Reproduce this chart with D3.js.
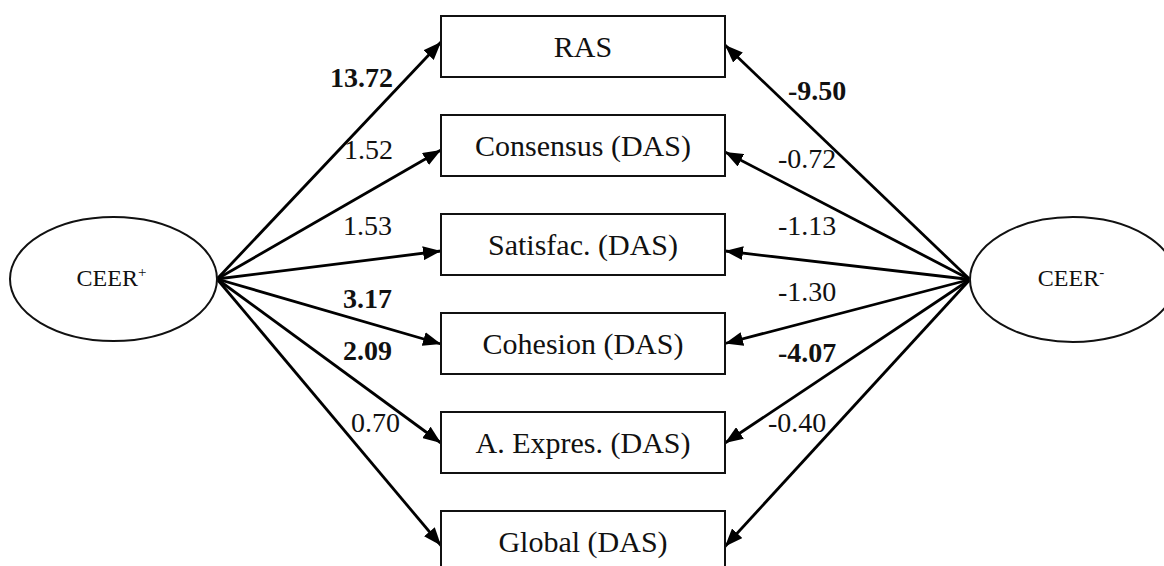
<!DOCTYPE html>
<html>
<head>
<meta charset="utf-8">
<script src="https://cdn.jsdelivr.net/npm/d3@7"></script>
<style>
  html, body { margin: 0; padding: 0; background: #fff; }
  svg { display: block; }
  svg text { font-family: "Liberation Serif", "Times New Roman", Times, "DejaVu Serif", serif; }
</style>
</head>
<body>
<svg id="chart" width="1164" height="566"></svg>
<script>
// ---- data ----
const outcomes = ["RAS", "Consensus (DAS)", "Satisfac. (DAS)", "Cohesion (DAS)", "A. Expres. (DAS)", "Global (DAS)"];
const posCoef = [13.72, 1.52, 1.53, 3.17, 2.09, 0.70];
const negCoef = [-9.50, -0.72, -1.13, -1.30, -4.07, -0.40];
const posBold = [true, false, false, true, true, false];
const negBold = [true, false, false, false, true, false];
const latentLabels = ["CEER", "CEER"];
const latentSup = ["+", "-"];

// ---- layout ----
const svg = d3.select("#chart");
const fmt = d3.formatLocale({decimal: ".", thousands: ",", grouping: [3], currency: ["", ""], minus: "-"}).format(".2f");

const idx = d3.range(outcomes.length);
const yTop = d3.scaleLinear().domain([0, outcomes.length - 1]).range([16, 511]);
const boxH = 61;
const boxX = d3.scaleLinear().domain([0, 1]).range([441, 725]);

// tip offsets relative to box centre (as drawn in the reference)
const tipOffL = [-4.5, 4.5, 6.5, 0.5, 0.5, 4];
const tipOffR = [-1.5, 6.5, 6.5, 0, 0.5, 5];

// label positions (layout only)
const lblL = [[393, 87], [393, 159], [392, 235], [392, 308], [392, 360], [400, 432]];
const lblR = [[788, 100], [778, 168], [778, 235], [778, 301], [778, 362], [768, 432]];

const leftE = {cx: 113.5, cy: 279, rx: 103.5, ry: 62};
const rightE = {cx: 1073, cy: 279.5, rx: 103, ry: 62.5};

// arrow marker
const defs = svg.append("defs");
defs.append("marker")
  .attr("id", "arr")
  .attr("markerUnits", "userSpaceOnUse")
  .attr("viewBox", "0 0 18 14")
  .attr("refX", 18).attr("refY", 7)
  .attr("markerWidth", 18).attr("markerHeight", 14)
  .attr("orient", "auto")
  .append("path").attr("d", "M0,0 L18,7 L0,14 Z").attr("fill", "#000");

const line = d3.line();

// left arrows
svg.append("g").selectAll("path.l").data(idx).join("path")
  .attr("class", "l")
  .attr("d", i => line([[leftE.cx + leftE.rx, leftE.cy], [boxX(0), yTop(i) + boxH / 2 + tipOffL[i]]]))
  .attr("fill", "none").attr("stroke", "#000").attr("stroke-width", 2.8)
  .attr("marker-end", "url(#arr)");

// right arrows
svg.append("g").selectAll("path.r").data(idx).join("path")
  .attr("class", "r")
  .attr("d", i => line([[rightE.cx - rightE.rx, rightE.cy], [boxX(1), yTop(i) + boxH / 2 + tipOffR[i]]]))
  .attr("fill", "none").attr("stroke", "#000").attr("stroke-width", 2.8)
  .attr("marker-end", "url(#arr)");

// boxes
const boxes = svg.append("g").selectAll("g").data(idx).join("g");
boxes.append("rect")
  .attr("x", boxX(0)).attr("y", i => yTop(i))
  .attr("width", boxX(1) - boxX(0)).attr("height", boxH)
  .attr("fill", "#fff").attr("stroke", "#111").attr("stroke-width", 2);
boxes.append("text")
  .attr("x", (boxX(0) + boxX(1)) / 2)
  .attr("y", i => yTop(i) + boxH / 2 + 10)
  .attr("text-anchor", "middle")
  .style("font-size", "30px").attr("fill", "#111")
  .text(i => outcomes[i]);

// ellipses
[leftE, rightE].forEach((e, k) => {
  svg.append("ellipse")
    .attr("cx", e.cx).attr("cy", e.cy).attr("rx", e.rx).attr("ry", e.ry)
    .attr("fill", "#fff").attr("stroke", "#111").attr("stroke-width", 2);
  const t = svg.append("text")
    .attr("x", e.cx - 2).attr("y", 286)
    .attr("text-anchor", "middle")
    .style("font-size", "24px").attr("fill", "#111");
  t.append("tspan").text(latentLabels[k]);
  t.append("tspan").style("font-size", "15px").attr("dy", -9).text(latentSup[k]);
});

// coefficient labels
svg.append("g").selectAll("text").data(idx).join("text")
  .attr("x", i => lblL[i][0]).attr("y", i => lblL[i][1])
  .attr("text-anchor", "end")
  .style("font-size", "28px").attr("fill", "#111")
  .style("font-weight", i => posBold[i] ? "bold" : "normal")
  .text(i => fmt(posCoef[i]));

svg.append("g").selectAll("text").data(idx).join("text")
  .attr("x", i => lblR[i][0]).attr("y", i => lblR[i][1])
  .attr("text-anchor", "start")
  .style("font-size", "28px").attr("fill", "#111")
  .style("font-weight", i => negBold[i] ? "bold" : "normal")
  .text(i => fmt(negCoef[i]));
</script>
</body>
</html>
